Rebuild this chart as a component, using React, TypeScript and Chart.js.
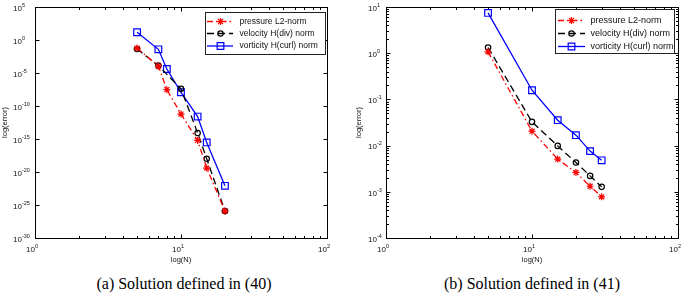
import React, { useEffect, useRef } from "react";
import { Chart, registerables } from "chart.js";
Chart.register(...registerables);

// ---------- data ----------
const nPressureA = [5, 7, 8, 10, 13, 15, 20];
const pressureA = [0.06, 1.1e-4, 3e-8, 6e-12, 6e-16, 4e-20, 1.2e-26];
const nVelocityA = [5, 7, 10, 13, 15, 20];
const velocityA = [0.043, 1.3e-4, 4e-8, 8e-15, 1e-18, 1.2e-26];
const nVorticityA = [5, 7, 8, 10, 13, 15, 20];
const vorticityA = [15, 0.039, 4e-5, 1.2e-8, 2.5e-12, 3e-16, 8e-23];

const nB = [5, 10, 15, 20, 25, 30];
const pressureB = [1.07, 0.0205, 0.0051, 0.00262, 0.00132, 0.00078];
const velocityB = [1.33, 0.0326, 0.00986, 0.0043, 0.00221, 0.00128];
const vorticityB = [7.45, 0.158, 0.0355, 0.0168, 0.0076, 0.0048];

const seriesLabels = ["pressure L2-norm", "velocity H(div) norm", "vorticity H(curl) norm"];
const xTickExps = [0, 1, 2];
const yTickExpsA = [5, 0, -5, -10, -15, -20, -25, -30];
const yTickExpsB = [1, 0, -1, -2, -3, -4];
const xTitle = "log(N)";
const yTitle = "log(error)";
const captions = ["(a) Solution defined in (40)", "(b) Solution defined in (41)"];

// ---------- styles ----------
const styles = [
  { color: "#ff0000", dash: [6, 3, 1.5, 3], point: "star", radius: 3.5 },
  { color: "#000000", dash: [7, 4], point: "circle", radius: 2.7 },
  { color: "#0000ff", dash: [] as number[], point: "rect", radius: 4.7 },
];

const FONT = '"Liberation Sans", Arial, sans-serif';

function drawMarker(ctx: CanvasRenderingContext2D, kind: string, x: number, y: number, r: number, color: string) {
  ctx.save();
  ctx.setLineDash([]);
  ctx.strokeStyle = color;
  ctx.lineWidth = 1.2;
  ctx.beginPath();
  if (kind === "star") {
    ctx.moveTo(x - r, y); ctx.lineTo(x + r, y);
    ctx.moveTo(x, y - r); ctx.lineTo(x, y + r);
    const d = r * Math.SQRT1_2;
    ctx.moveTo(x - d, y - d); ctx.lineTo(x + d, y + d);
    ctx.moveTo(x - d, y + d); ctx.lineTo(x + d, y - d);
  } else if (kind === "circle") {
    ctx.arc(x, y, r, 0, Math.PI * 2);
  } else {
    const s = r * Math.SQRT1_2;
    ctx.rect(x - s, y - s, 2 * s, 2 * s);
  }
  ctx.stroke();
  ctx.restore();
}

function drawPow(ctx: CanvasRenderingContext2D, x: number, y: number, exp: number, mode: "x" | "y") {
  ctx.save();
  ctx.fillStyle = "#111";
  ctx.textBaseline = "alphabetic";
  ctx.textAlign = "left";
  ctx.font = `8px ${FONT}`;
  const wb = ctx.measureText("10").width;
  const ex = String(exp);
  const startX = mode === "x" ? x - wb : x;
  ctx.fillText("10", startX, y);
  ctx.font = `5.5px ${FONT}`;
  ctx.fillText(ex, startX + wb, y - 4);
  ctx.restore();
}

type Cfg = {
  yExps: number[];
  yMinor: boolean;
  yLabelOffset: number;
  yTitleX: number;
  legend: { x: number; y: number; w: number; h: number; rows: number[]; l0: number; l1: number; mx: number; tx: number; font: number };
};

function makePlugin(cfg: Cfg) {
  return {
    id: "matlabFrame",
    beforeDatasetsDraw(chart: any) {
      const ctx: CanvasRenderingContext2D = chart.ctx;
      const { left, right, top, bottom } = chart.chartArea;
      const xs = chart.scales.x;
      const ys = chart.scales.y;
      const L = Math.round(left) + 0.5, R = Math.round(right) + 0.5;
      const T = Math.round(top) + 0.5, B = Math.round(bottom) + 0.5;
      ctx.save();
      ctx.strokeStyle = "#000";
      ctx.lineWidth = 1;
      ctx.strokeRect(L, T, R - L, B - T);
      ctx.beginPath();
      xTickExps.forEach((e, i) => {
        const p = Math.round(xs.getPixelForValue(Math.pow(10, e))) + 0.5;
        ctx.moveTo(p, B); ctx.lineTo(p, B - 4);
        ctx.moveTo(p, T); ctx.lineTo(p, T + 4);
        if (i < xTickExps.length - 1) {
          for (let m = 2; m <= 9; m++) {
            const q = Math.round(xs.getPixelForValue(m * Math.pow(10, e))) + 0.5;
            ctx.moveTo(q, B); ctx.lineTo(q, B - 2.5);
            ctx.moveTo(q, T); ctx.lineTo(q, T + 2.5);
          }
        }
      });
      cfg.yExps.forEach((e, i) => {
        const p = Math.round(ys.getPixelForValue(Math.pow(10, e))) + 0.5;
        ctx.moveTo(L, p); ctx.lineTo(L + 4, p);
        ctx.moveTo(R, p); ctx.lineTo(R - 4, p);
        if (cfg.yMinor && i < cfg.yExps.length - 1) {
          const lo = cfg.yExps[i + 1];
          for (let m = 2; m <= 9; m++) {
            const q = Math.round(ys.getPixelForValue(m * Math.pow(10, lo))) + 0.5;
            ctx.moveTo(L, q); ctx.lineTo(L + 2.5, q);
            ctx.moveTo(R, q); ctx.lineTo(R - 2.5, q);
          }
        }
      });
      ctx.stroke();
      ctx.restore();

      // tick labels
      xTickExps.forEach((e) => {
        const p = xs.getPixelForValue(Math.pow(10, e));
        drawPow(ctx, p, B + 13.5, e, "x");
      });
      cfg.yExps.forEach((e) => {
        const p = ys.getPixelForValue(Math.pow(10, e));
        drawPow(ctx, left - cfg.yLabelOffset, p + 3.7, e, "y");
      });

      // axis titles
      ctx.save();
      ctx.fillStyle = "#111";
      ctx.font = `7.5px ${FONT}`;
      ctx.textAlign = "center";
      ctx.textBaseline = "middle";
      ctx.fillText(xTitle, (left + right) / 2, 260);
      ctx.translate(cfg.yTitleX, (top + bottom) / 2);
      ctx.rotate(-Math.PI / 2);
      ctx.fillText(yTitle, 0, 0);
      ctx.restore();
    },
    afterDraw(chart: any) {
      const ctx: CanvasRenderingContext2D = chart.ctx;
      const lg = cfg.legend;
      ctx.save();
      ctx.fillStyle = "#fff";
      ctx.fillRect(lg.x, lg.y, lg.w, lg.h);
      ctx.strokeStyle = "#222";
      ctx.lineWidth = 1;
      ctx.strokeRect(lg.x + 0.5, lg.y + 0.5, lg.w, lg.h);
      seriesLabels.forEach((lab, i) => {
        const st = styles[i];
        const y = lg.rows[i];
        ctx.save();
        ctx.strokeStyle = st.color;
        ctx.lineWidth = 1.3;
        ctx.setLineDash(st.dash);
        ctx.beginPath();
        ctx.moveTo(lg.l0, y); ctx.lineTo(lg.l1, y);
        ctx.stroke();
        ctx.restore();
        drawMarker(ctx, st.point, lg.mx, y, st.radius, st.color);
        ctx.fillStyle = "#111";
        ctx.font = `${lg.font}px ${FONT}`;
        ctx.textAlign = "left";
        ctx.textBaseline = "middle";
        ctx.fillText(lab, lg.tx, y);
      });
      ctx.restore();
    },
  };
}

function toPts(xs: number[], ys: number[]) {
  return xs.map((x, i) => ({ x, y: ys[i] }));
}

function buildDatasets(series: { x: number[]; y: number[] }[]) {
  return series.map((s, i) => ({
    label: seriesLabels[i],
    data: toPts(s.x, s.y),
    borderColor: styles[i].color,
    backgroundColor: "rgba(0,0,0,0)",
    borderWidth: 1.3,
    borderDash: styles[i].dash,
    pointStyle: styles[i].point,
    pointRadius: styles[i].radius,
    pointBorderColor: styles[i].color,
    pointBackgroundColor: "rgba(0,0,0,0)",
    pointBorderWidth: 1.2,
    tension: 0,
    fill: false,
  }));
}

function LogChart(props: {
  width: number; height: number; padRight: number; padTop: number; yWidth: number; xHeight: number;
  yMin: number; yMax: number; datasets: any[]; cfg: Cfg;
}) {
  const ref = useRef<HTMLCanvasElement | null>(null);
  useEffect(() => {
    if (!ref.current) return;
    const chart = new Chart(ref.current, {
      type: "line",
      data: { datasets: props.datasets },
      options: {
        responsive: false,
        animation: false,
        devicePixelRatio: 1,
        layout: { padding: { left: 0, right: props.padRight, top: props.padTop, bottom: 0 } },
        plugins: { legend: { display: false }, tooltip: { enabled: false } },
        scales: {
          x: {
            type: "logarithmic", min: 1, max: 100,
            ticks: { display: false }, grid: { display: false }, border: { display: false },
            afterFit: (s: any) => { s.height = props.xHeight; },
          },
          y: {
            type: "logarithmic", min: props.yMin, max: props.yMax,
            ticks: { display: false }, grid: { display: false }, border: { display: false },
            afterFit: (s: any) => { s.width = props.yWidth; },
          },
        },
      } as any,
      plugins: [makePlugin(props.cfg) as any],
    });
    return () => chart.destroy();
  }, []);
  return <canvas ref={ref} width={props.width} height={props.height} style={{ width: props.width, height: props.height, display: "block" }} />;
}

export default function App() {
  const dsA = buildDatasets([
    { x: nPressureA, y: pressureA },
    { x: nVelocityA, y: velocityA },
    { x: nVorticityA, y: vorticityA },
  ]);
  const dsB = buildDatasets([
    { x: nB, y: pressureB },
    { x: nB, y: velocityB },
    { x: nB, y: vorticityB },
  ]);
  const capStyle: React.CSSProperties = {
    position: "absolute", top: 276, fontFamily: '"Liberation Serif", "Times New Roman", serif',
    fontSize: 16, lineHeight: "16px", textAlign: "center", color: "#000", whiteSpace: "nowrap",
  };
  return (
    <div style={{ position: "absolute", left: 0, top: 0, width: 685, height: 293, background: "#fff", overflow: "hidden" }}>
      <div style={{ position: "absolute", left: 0, top: 0 }}>
        <LogChart width={345} height={270} padRight={18} padTop={7} yWidth={35} xHeight={32}
          yMin={1e-30} yMax={1e5} datasets={dsA}
          cfg={{ yExps: yTickExpsA, yMinor: false, yLabelOffset: 22, yTitleX: 5,
            legend: { x: 205, y: 12, w: 120, h: 42, rows: [21.5, 33.5, 46], l0: 207, l1: 233, mx: 220.5, tx: 239.5, font: 8.5 } }} />
      </div>
      <div style={{ position: "absolute", left: 345, top: 0 }}>
        <LogChart width={340} height={270} padRight={7} padTop={7} yWidth={41} xHeight={32}
          yMin={1e-4} yMax={10} datasets={dsB}
          cfg={{ yExps: yTickExpsB, yMinor: true, yLabelOffset: 18, yTitleX: 13.5,
            legend: { x: 210, y: 9, w: 119, h: 44, rows: [20.5, 33.5, 46.5], l0: 213, l1: 240, mx: 226.5, tx: 245.5, font: 9 } }} />
      </div>
      <div style={{ ...capStyle, left: 0, width: 368 }}>{captions[0]}</div>
      <div style={{ ...capStyle, left: 362, width: 340 }}>{captions[1]}</div>
    </div>
  );
}
